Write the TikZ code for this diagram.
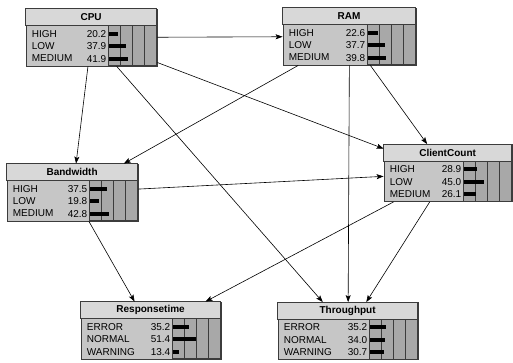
\documentclass[tikz,border=0pt]{standalone}
\usepackage{fontspec}
\setmainfont{Liberation Sans}
\usetikzlibrary{arrows.meta,positioning}

\definecolor{boxgray}{HTML}{C6C6C6}
\definecolor{titlegray}{HTML}{D8D8D8}
\definecolor{bargray}{HTML}{A8A8A8}
\definecolor{linegray}{HTML}{3C3C3C}

% one network node: name, centre, width, title, states
\newcommand{\bnnode}[5]{%
  \node[bnbox,minimum width=#3pt] (#1) at (#2) {};
  \begin{scope}[shift={(#1.north west)},-]
    \draw[draw=linegray,fill=titlegray] (0,0) rectangle (#3,17);
    \node[font=\bfseries] at (#3/2,8.5) {#4};
    \draw[draw=linegray,fill=bargray] (#3-48,17) rectangle (#3,57);
    \foreach \q in {12,24,36}
      \draw[linegray,thin] (#3-48+\q,17) -- (#3-48+\q,57);
    \foreach \lab/\val [count=\i] in {#5} {
      \node[anchor=west,inner sep=1pt] at (5,12.5+12.5*\i) {\lab};
      \node[anchor=east,inner sep=1pt] at (#3-49,12.5+12.5*\i) {\val};
      \fill (#3-48,10.5+12.5*\i) rectangle ++(0.46*\val,4);
    }
  \end{scope}
}

\begin{document}
\begin{tikzpicture}[x=1pt,y=-1pt,->,>={Stealth[length=7pt,width=5pt,inset=1.5pt]},
                    line width=0.6pt,font=\fontsize{10}{12}\selectfont]
  \tikzstyle{bnbox}=[rectangle,draw=linegray,fill=boxgray,minimum height=57pt,
                     inner sep=0pt,line width=0.8pt]
  \useasboundingbox (0,0) rectangle (513,363);

  \bnnode{cpu}{91.5,37.5}{131}{CPU}{HIGH/20.2,LOW/37.9,MEDIUM/41.9}
  \bnnode{ram}{349.5,36.5}{133}{RAM}{HIGH/22.6,LOW/37.7,MEDIUM/39.8}
  \bnnode{bandwidth}{72.5,192.5}{131}{Bandwidth}{HIGH/37.5,LOW/19.8,MEDIUM/42.8}
  \bnnode{clientcount}{448,173}{128}{ClientCount}{HIGH/28.9,LOW/45.0,MEDIUM/26.1}
  \bnnode{responsetime}{151,330.5}{140}{Responsetime}{ERROR/35.2,NORMAL/51.4,WARNING/13.4}
  \bnnode{throughput}{348,331}{140}{Throughput}{ERROR/35.2,NORMAL/34.0,WARNING/30.7}

  \path (cpu) edge (ram) edge (bandwidth) edge (clientcount) edge (throughput);
  \path (ram) edge (bandwidth) edge (clientcount) edge (throughput);
  \path (bandwidth) edge (clientcount) edge (responsetime);
  \path (clientcount) edge (responsetime) edge (throughput);
\end{tikzpicture}
\end{document}
